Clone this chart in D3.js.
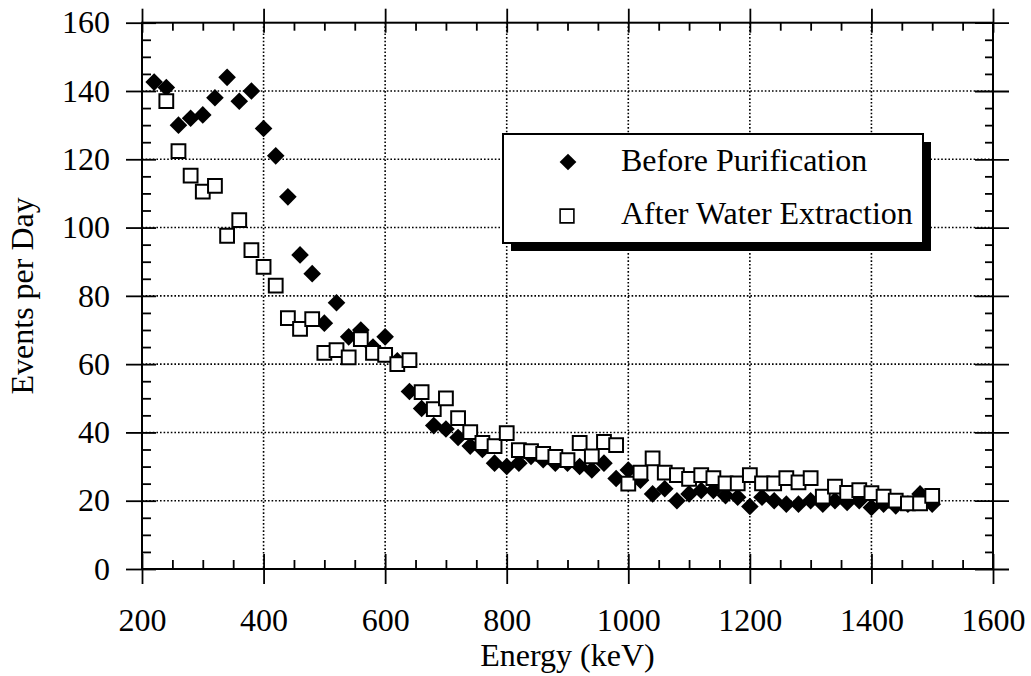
<!DOCTYPE html>
<html>
<head>
<meta charset="utf-8">
<script src="https://cdn.jsdelivr.net/npm/d3@7"></script>
<style>
  html, body { margin: 0; padding: 0; background: #fff; }
  svg { display: block; }
  text { font-family: "Liberation Serif", "Times New Roman", serif; fill: #000; }
</style>
</head>
<body>
<svg id="chart" width="1031" height="676"></svg>
<script>
// ---- data ----
const beforeEnergy = [220,240,260,280,300,320,340,360,380,400,420,440,460,480,500,520,540,560,580,600,620,640,660,680,700,720,740,760,780,800,820,840,860,880,900,920,940,960,980,1000,1020,1040,1060,1080,1100,1120,1140,1160,1180,1200,1220,1240,1260,1280,1300,1320,1340,1360,1380,1400,1420,1440,1460,1480,1500];
const beforeEvents = [142.6,141,130,132,133,138,144,137,140,129,121,109,92,86.5,72,78,68,70,65,68,61,52,47,42,41,38.5,36,35,31,30,31,33,32,31,31,30,29,31,26.5,29,26,22,23.5,20,22,23,23,21.5,21,18.3,21,20,19,19,20,19,20,19.5,20,18,19,18.5,19,22,19];
const afterEnergy = [240,260,280,300,320,340,360,380,400,420,440,460,480,500,520,540,560,580,600,620,640,660,680,700,720,740,760,780,800,820,840,860,880,900,920,940,960,980,1000,1020,1040,1060,1080,1100,1120,1140,1160,1180,1200,1220,1240,1260,1280,1300,1320,1340,1360,1380,1400,1420,1440,1460,1480,1500];
const afterEvents = [137,122.4,115.2,110.5,112.2,97.6,102.2,93.4,88.5,83,73.5,70.3,73.2,63.3,64.1,62,67.3,63.3,62.7,60,61.2,51.8,46.8,50,44.2,40.1,36.9,36,39.8,34.8,34.5,33.7,32.8,31.9,36.9,33,37.2,36.3,25,28.2,32.4,28.2,27.5,26.4,27.5,26.6,25.1,25.1,27.5,25.1,25.1,26.6,25.4,26.6,21.2,24.1,22.3,23.1,22.2,21.2,20,19.2,19.2,21.4];
const xMajorTicks = [200,400,600,800,1000,1200,1400,1600];
const xMinorTicks = [250,300,350,450,500,550,650,700,750,850,900,950,1050,1100,1150,1250,1300,1350,1450,1500,1550];
const yMajorTicks = [0,20,40,60,80,100,120,140,160];
const yMinorTicks = [5,10,15,25,30,35,45,50,55,65,70,75,85,90,95,105,110,115,125,130,135,145,150,155];
const legendLabels = ["Before Purification", "After Water Extraction"];
const xTitle = "Energy (keV)";
const yTitle = "Events per Day";

// ---- layout ----
const svg = d3.select("#chart");
const pLeft = 142, pRight = 993, pTop = 22.7, pBottom = 569;
const x = d3.scaleLinear().domain([200, 1600]).range([pLeft, pRight]);
const y = d3.scaleLinear().domain([0, 160]).range([pBottom, pTop]);
const FONT = '"Liberation Serif", "Times New Roman", serif';

// gridlines (dotted)
const grid = svg.append("g");
grid.selectAll("line.gx").data(xMajorTicks.slice(1, -1)).join("line")
  .attr("x1", d => x(d)).attr("x2", d => x(d))
  .attr("y1", pTop).attr("y2", pBottom)
  .attr("stroke", "#000").attr("stroke-width", 1.6).attr("stroke-dasharray", "1.6,2");
grid.selectAll("line.gy").data(yMajorTicks.slice(1, -1)).join("line")
  .attr("y1", d => y(d)).attr("y2", d => y(d))
  .attr("x1", pLeft).attr("x2", pRight)
  .attr("stroke", "#000").attr("stroke-width", 1.6).attr("stroke-dasharray", "1.6,2");

function styleAxis(g) {
  g.select(".domain").remove();
  g.selectAll(".tick line").attr("stroke", "#000").attr("stroke-width", 1.8);
}

// bottom axis
const bAxis = svg.append("g").attr("transform", `translate(0,${pBottom})`)
  .call(d3.axisBottom(x).tickValues(xMajorTicks).tickSize(15).tickPadding(24).tickFormat(d3.format("d")));
styleAxis(bAxis);
bAxis.selectAll(".tick line").attr("y1", -15);
bAxis.selectAll(".tick text").attr("font-size", 32).style("font-family", FONT);
const bMinor = svg.append("g").attr("transform", `translate(0,${pBottom})`)
  .call(d3.axisBottom(x).tickValues(xMinorTicks).tickSize(-9).tickFormat(""));
styleAxis(bMinor);

// top axis
const tAxis = svg.append("g").attr("transform", `translate(0,${pTop})`)
  .call(d3.axisTop(x).tickValues(xMajorTicks).tickSize(14).tickFormat(""));
styleAxis(tAxis);
tAxis.selectAll(".tick line").attr("y1", 10);
const tMinor = svg.append("g").attr("transform", `translate(0,${pTop})`)
  .call(d3.axisTop(x).tickValues(xMinorTicks).tickSize(-8).tickFormat(""));
styleAxis(tMinor);

// left axis
const lAxis = svg.append("g").attr("transform", `translate(${pLeft},0)`)
  .call(d3.axisLeft(y).tickValues(yMajorTicks).tickSize(16).tickPadding(16).tickFormat(d3.format("d")));
styleAxis(lAxis);
lAxis.selectAll(".tick line").attr("x1", 14);
lAxis.selectAll(".tick text").attr("font-size", 32).style("font-family", FONT);
const lMinor = svg.append("g").attr("transform", `translate(${pLeft},0)`)
  .call(d3.axisLeft(y).tickValues(yMinorTicks).tickSize(-9).tickFormat(""));
styleAxis(lMinor);

// right axis
const rAxis = svg.append("g").attr("transform", `translate(${pRight},0)`)
  .call(d3.axisRight(y).tickValues(yMajorTicks).tickSize(16).tickFormat(""));
styleAxis(rAxis);
rAxis.selectAll(".tick line").attr("x1", -18);
const rMinor = svg.append("g").attr("transform", `translate(${pRight},0)`)
  .call(d3.axisRight(y).tickValues(yMinorTicks).tickSize(-8).tickFormat(""));
styleAxis(rMinor);

// frame
svg.append("rect").attr("x", pLeft).attr("y", pTop)
  .attr("width", pRight - pLeft).attr("height", pBottom - pTop)
  .attr("fill", "none").attr("stroke", "#000").attr("stroke-width", 2);

// axis titles
svg.append("text").attr("x", (pLeft + pRight) / 2).attr("y", 666)
  .attr("text-anchor", "middle").attr("font-size", 32).text(xTitle);
svg.append("text").attr("transform", `translate(33,${(pTop + pBottom) / 2}) rotate(-90)`)
  .attr("text-anchor", "middle").attr("font-size", 32).text(yTitle);

// markers
const diamondPath = d3.symbol(d3.symbolSquare, 155)();
const squarePath = d3.symbol(d3.symbolSquare, 190)();
const before = beforeEnergy.map((e, i) => ({e, v: beforeEvents[i]}));
const after = afterEnergy.map((e, i) => ({e, v: afterEvents[i]}));

svg.append("g").selectAll("path").data(before).join("path")
  .attr("d", diamondPath)
  .attr("transform", d => `translate(${x(d.e)},${y(d.v)}) rotate(45)`)
  .attr("fill", "#000");
svg.append("g").selectAll("path").data(after).join("path")
  .attr("d", squarePath)
  .attr("transform", d => `translate(${x(d.e)},${y(d.v)})`)
  .attr("fill", "#fff").attr("stroke", "#000").attr("stroke-width", 2);

// legend
const lg = svg.append("g");
lg.append("rect").attr("x", 511).attr("y", 142).attr("width", 420).attr("height", 109).attr("fill", "#000");
lg.append("rect").attr("x", 503).attr("y", 134).attr("width", 420).attr("height", 109)
  .attr("fill", "#fff").attr("stroke", "#000").attr("stroke-width", 2);
lg.append("path").attr("d", d3.symbol(d3.symbolSquare, 140)())
  .attr("transform", "translate(568,162) rotate(45)").attr("fill", "#000");
lg.append("path").attr("d", d3.symbol(d3.symbolSquare, 190)())
  .attr("transform", "translate(567,216)").attr("fill", "#fff").attr("stroke", "#000").attr("stroke-width", 1.6);
lg.selectAll("text").data(legendLabels).join("text")
  .attr("x", 621).attr("y", (d, i) => 171 + i * 53)
  .attr("font-size", 32).text(d => d);
</script>
</body>
</html>
